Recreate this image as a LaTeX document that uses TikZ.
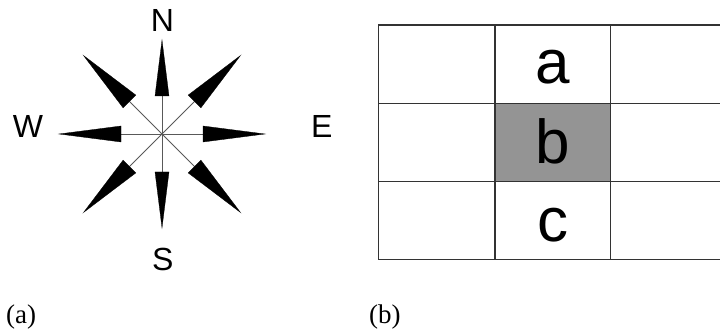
\documentclass[tikz,border=0pt]{standalone}
\usepackage{fontspec}
\setmainfont{Liberation Serif}
\newfontfamily\arial{Liberation Sans}
\usetikzlibrary{calc}
\tikzset{
  spoke/.style={draw=black!65, line width=0.9pt},
  head/.style={fill=black, draw=black, line width=0.3pt, line join=miter},
  dirlbl/.style={font=\arial\fontsize{32}{32}\selectfont, anchor=base, inner sep=0pt},
  cellbl/.style={font=\arial\fontsize{62}{62}\selectfont, anchor=base, inner sep=0pt},
  caption/.style={font=\fontsize{27}{27}\selectfont, anchor=base west, inner sep=0pt},
  gridline/.style={draw=black!80, line width=1.1pt},
}
\begin{document}
\begin{tikzpicture}[x=1pt,y=1pt]
\useasboundingbox (0,0) rectangle (720,332);
\fill[white] (0,0) rectangle (720,332);
% compass
\coordinate (c) at (162,198);
\foreach \ang/\tip/\base/\hw in {0/103/41/8, 180/103/41/8, 90/94/38/7, 270/94/38/7,
  45/111/46/9, 135/111/46/9, 225/111/46/9, 315/111/46/9}{
  \draw[spoke] (c) -- ($(c)+(\ang:\base)$);
  \path[head] ($(c)+(\ang:\tip)$) -- ($(c)+(\ang:\base)+(\ang+90:\hw)$)
     -- ($(c)+(\ang:\base)+(\ang-90:\hw)$) -- cycle;
}
\node[dirlbl] (N) at (162.5,300.3) {N};
\node[dirlbl] (W) at (28,194.3) {W};
\node[dirlbl] (E) at (321.7,194) {E};
\node[dirlbl] (S) at (162.8,61) {S};
\node[caption] (capa) at (6,9) {(a)};
% grid
\fill[black!42] (495,150.3) rectangle (610.7,228.7);
\foreach \y in {307,228.7,150.3,72.7}{ \draw[gridline] (378.3,\y) -- (720,\y); }
\foreach \x in {378.3,495,610.7}{ \draw[gridline] (\x,307) -- (\x,72.7); }
\node[cellbl] (a) at (553,248.7) {a};
\node[cellbl] (b) at (553,168.7) {b};
\node[cellbl] (cc) at (553,90.3) {c};
\node[caption] (capb) at (369,9) {(b)};
\end{tikzpicture}
\end{document}
